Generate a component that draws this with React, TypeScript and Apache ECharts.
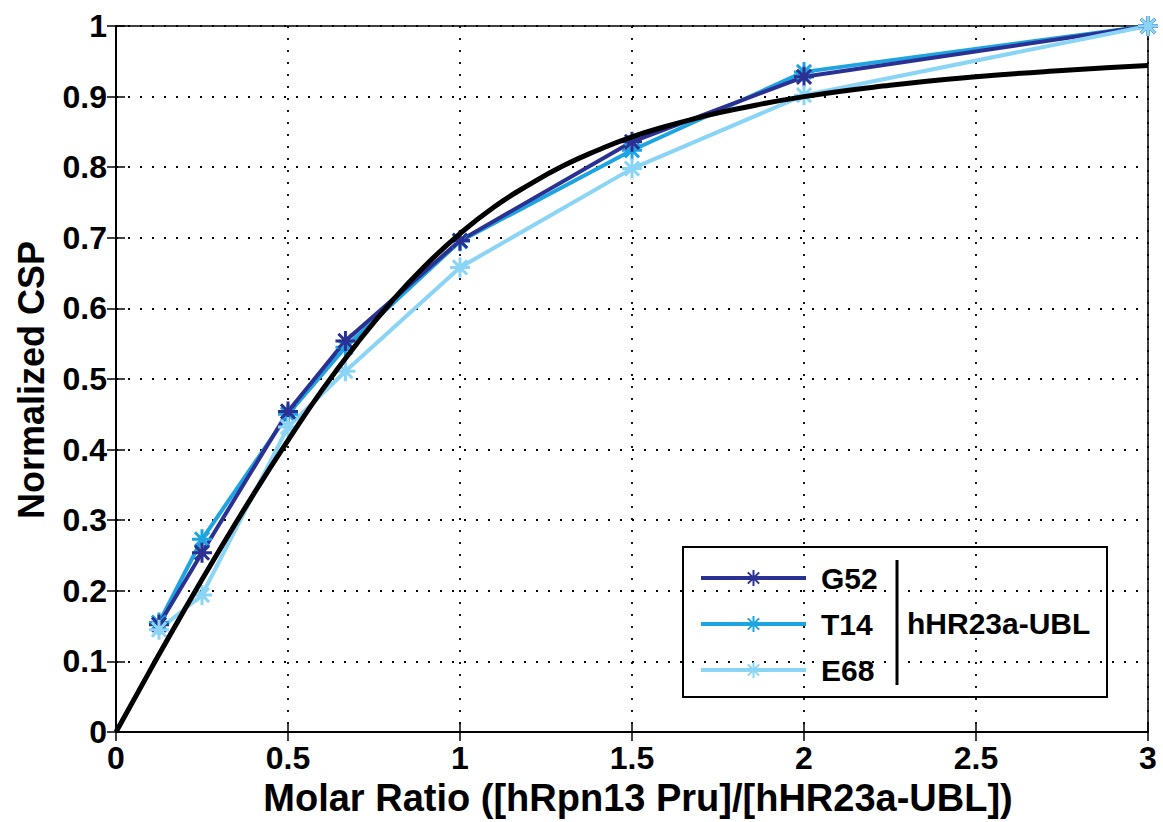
import React, { useEffect, useRef } from "react";
import * as echarts from "echarts";

const molarRatio = [0.125, 0.25, 0.5, 0.667, 1, 1.5, 2, 3];
const g52 = [0.152, 0.254, 0.454, 0.554, 0.696, 0.836, 0.928, 1.0];
const t14 = [0.155, 0.273, 0.45, 0.545, 0.695, 0.824, 0.935, 1.0];
const e68 = [0.145, 0.194, 0.432, 0.511, 0.658, 0.798, 0.902, 1.0];

const fitX = [0, 0.1, 0.2, 0.3, 0.4, 0.5, 0.6, 0.7, 0.8, 0.9, 1.0, 1.1, 1.2, 1.3, 1.4, 1.5, 1.6, 1.7, 1.8, 2.0, 2.25, 2.5, 2.75, 3.0];
const fitY = [0, 0.088, 0.174, 0.257, 0.337, 0.413, 0.485, 0.55, 0.609, 0.661, 0.706, 0.744, 0.775, 0.802, 0.824, 0.843, 0.858, 0.871, 0.882, 0.9, 0.916, 0.928, 0.937, 0.944];

const seriesNames = ["G52", "T14", "E68"];
const groupLabel = "hHR23a-UBL";
const xTitle = "Molar Ratio ([hRpn13 Pru]/[hHR23a-UBL])";
const yTitle = "Normalized CSP";

const COLORS: Record<string, string> = {
  G52: "#2b3192",
  T14: "#1ea4e0",
  E68: "#8ad4f6",
};

const STAR = "path://M10 0L10 20M0 10L20 10M2.93 2.93L17.07 17.07M2.93 17.07L17.07 2.93";
const FONT = "Liberation Sans, Arial, Helvetica, sans-serif";

function pairs(xs: number[], ys: number[]) {
  return xs.map((x, i) => [x, ys[i]]);
}

function fmt(v: number) {
  const r = Math.round(v * 10) / 10;
  return String(r);
}

export default function App() {
  const ref = useRef<HTMLDivElement>(null);
  useEffect(() => {
    if (!ref.current) return;
    const chart = echarts.init(ref.current, undefined, { renderer: "svg" });
    const dataSeries = (name: string, ys: number[]) => ({
      name,
      type: "line",
      data: pairs(molarRatio, ys),
      symbol: STAR,
      symbolSize: 20,
      lineStyle: { color: COLORS[name], width: 4 },
      itemStyle: { color: COLORS[name], borderColor: COLORS[name], borderWidth: 3 },
      z: 3,
    });
    const gridLine = { show: true, lineStyle: { color: "#000", width: 1.8, type: [2, 10] as any } };
    const axisLabel = { color: "#000", fontFamily: FONT, fontWeight: "bold" as const, fontSize: 32 };
    chart.setOption({
      animation: false,
      backgroundColor: "#fff",
      grid: { left: 116, right: 15, top: 26, bottom: 90, show: true, borderColor: "#000", borderWidth: 1.5 },
      xAxis: [
        {
          type: "value",
          min: 0,
          max: 3,
          interval: 0.5,
          axisLine: { show: true, lineStyle: { color: "#000", width: 1.5 } },
          axisTick: { show: true, inside: true, length: 9, lineStyle: { color: "#000", width: 1.5 } },
          axisLabel: { ...axisLabel, margin: 10, formatter: (v: number) => fmt(v) },
          splitLine: gridLine,
        },
        {
          type: "value",
          position: "top",
          min: 0,
          max: 3,
          interval: 0.5,
          axisLine: { show: true, lineStyle: { color: "#000", width: 1.5 } },
          axisTick: { show: true, inside: true, length: 9, lineStyle: { color: "#000", width: 1.5 } },
          axisLabel: { show: false },
          splitLine: { show: false },
        },
      ],
      yAxis: [
        {
          type: "value",
          min: 0,
          max: 1,
          interval: 0.1,
          axisLine: { show: true, lineStyle: { color: "#000", width: 1.5 } },
          axisTick: { show: true, inside: true, length: 9, lineStyle: { color: "#000", width: 1.5 } },
          axisLabel: { ...axisLabel, margin: 9, formatter: (v: number) => fmt(v) },
          splitLine: gridLine,
        },
        {
          type: "value",
          position: "right",
          min: 0,
          max: 1,
          interval: 0.1,
          axisLine: { show: true, lineStyle: { color: "#000", width: 1.5 } },
          axisTick: { show: true, inside: true, length: 9, lineStyle: { color: "#000", width: 1.5 } },
          axisLabel: { show: false },
          splitLine: { show: false },
        },
      ],
      legend: {
        data: seriesNames,
        orient: "vertical",
        left: 699,
        top: 562,
        itemWidth: 105,
        itemHeight: 20,
        itemGap: 14,
        padding: 0,
        lineStyle: { width: 4 },
        textStyle: {
          color: "#000",
          fontFamily: FONT,
          fontWeight: "bold",
          fontSize: 30,
          lineHeight: 32,
          padding: [0, 0, 0, 10],
        },
      },
      graphic: [
        {
          type: "rect",
          shape: { x: 683, y: 547, width: 424, height: 150 },
          style: { fill: "none", stroke: "#000", lineWidth: 2 },
          z: 0,
          silent: true,
        },
        {
          type: "rect",
          shape: { x: 684, y: 548, width: 422, height: 148 },
          style: { fill: "#fff" },
          z: -1,
          silent: true,
        },
        {
          type: "line",
          shape: { x1: 897, y1: 560, x2: 897, y2: 685 },
          style: { stroke: "#000", lineWidth: 3 },
          silent: true,
        },
        {
          type: "text",
          x: 907,
          y: 623,
          style: {
            text: groupLabel,
            fill: "#000",
            font: `bold 30px ${FONT}`,
            textAlign: "left",
            textVerticalAlign: "middle",
          },
        },
        {
          type: "text",
          x: 638,
          y: 798,
          style: {
            text: xTitle,
            fill: "#000",
            font: `bold 38px ${FONT}`,
            textAlign: "center",
            textVerticalAlign: "middle",
          },
        },
        {
          type: "text",
          x: 31,
          y: 380,
          rotation: Math.PI / 2,
          style: {
            text: yTitle,
            fill: "#000",
            font: `bold 36px ${FONT}`,
            textAlign: "center",
            textVerticalAlign: "middle",
          },
        },
      ],
      series: [
        dataSeries("T14", t14),
        dataSeries("G52", g52),
        dataSeries("E68", e68),
        {
          name: "Fit",
          type: "line",
          data: pairs(fitX, fitY),
          smooth: true,
          showSymbol: false,
          symbol: "none",
          lineStyle: { color: "#000", width: 5 },
          z: 4,
        },
      ],
    });
    return () => chart.dispose();
  }, []);
  return <div ref={ref} style={{ position: "fixed", left: 0, top: 0, width: 1163, height: 822 }} />;
}
